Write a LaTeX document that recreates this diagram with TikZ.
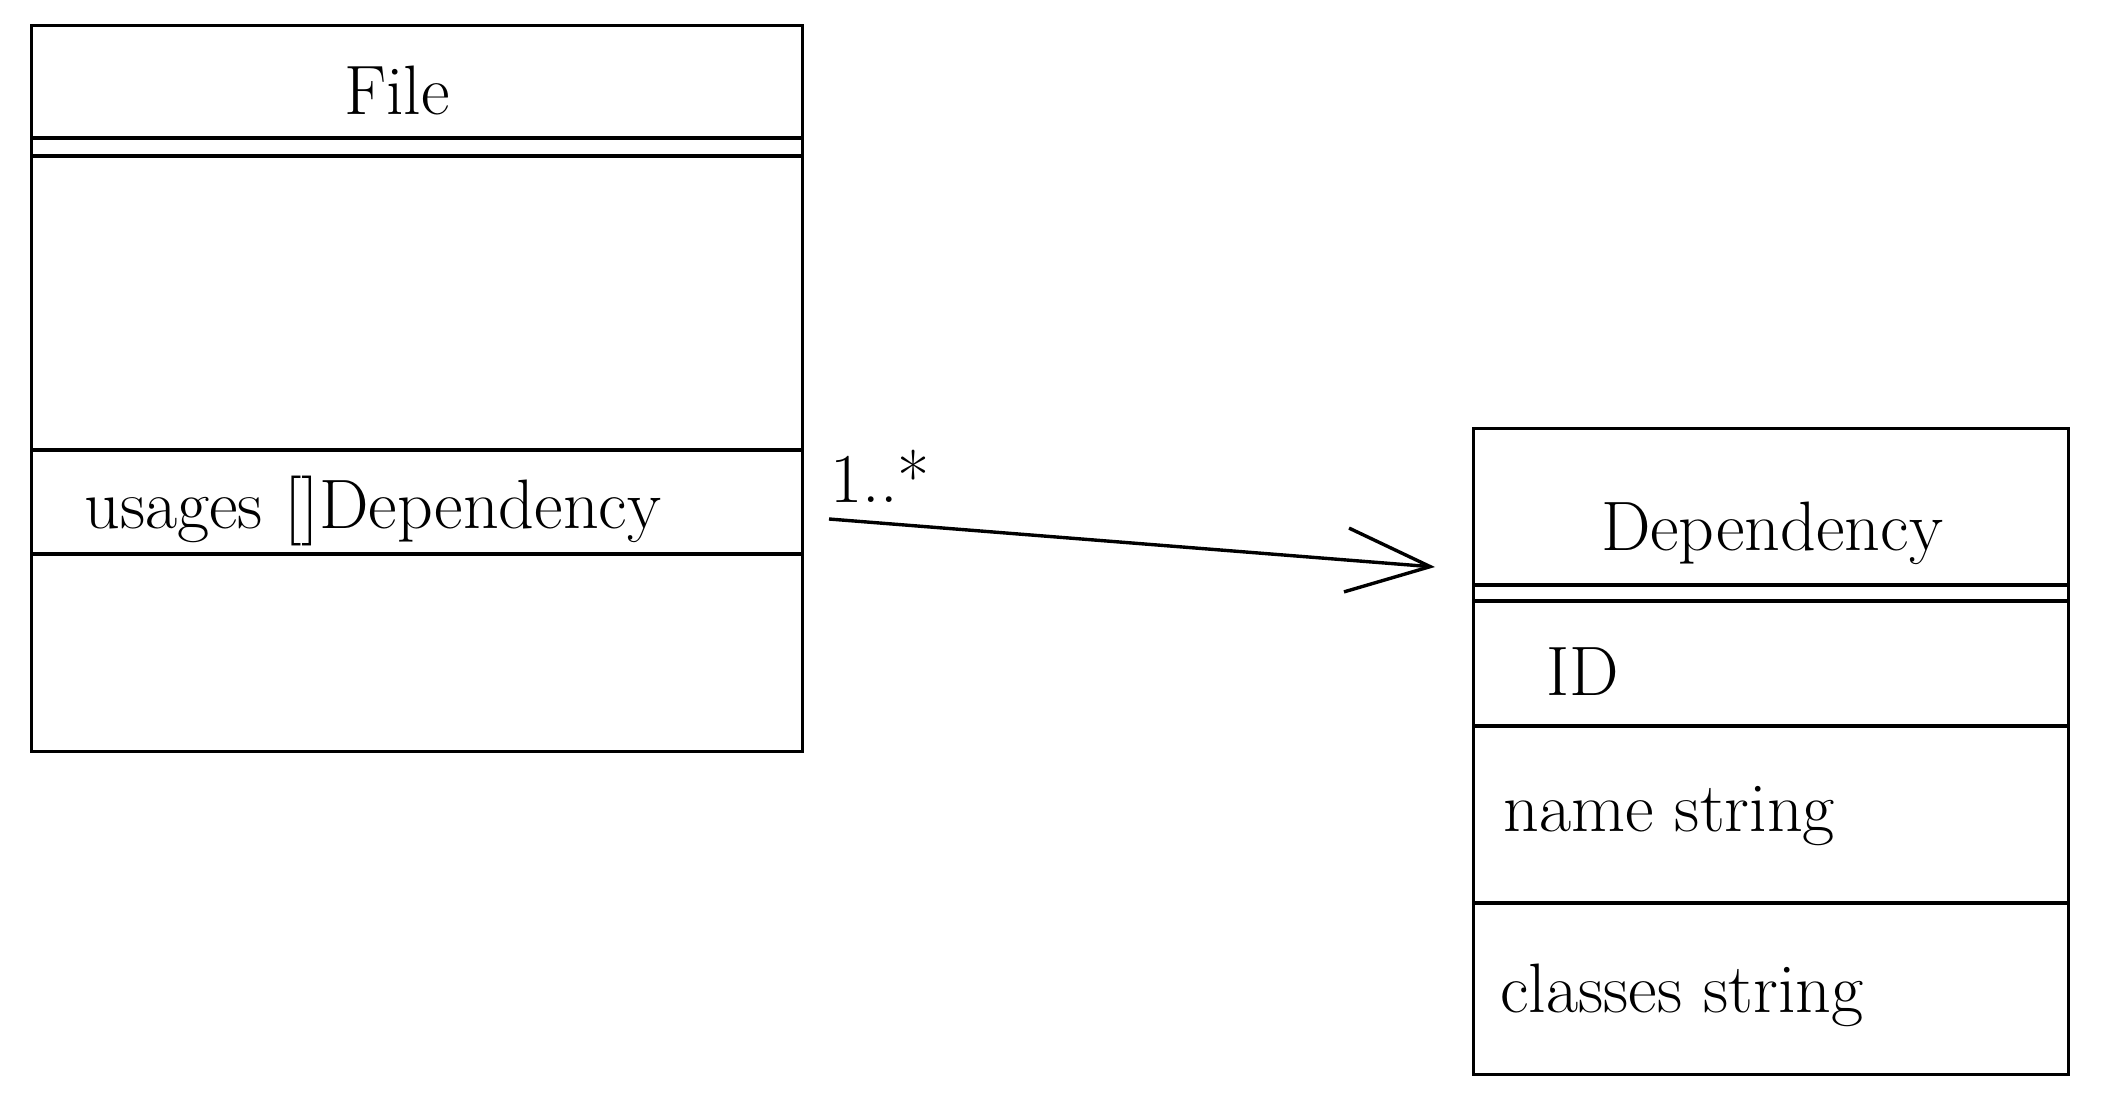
\documentclass[tikz,border=0pt]{standalone}
\usepackage{tikz}
\usetikzlibrary{arrows.meta}
\tikzset{>=latex}

\begin{document}
\begin{tikzpicture}[
    x=0.5pt, y=-0.5pt,
    every node/.style={font=\fontsize{35}{42}\selectfont, inner sep=0pt},
    classbox/.style={draw, rectangle, line width=1.7pt, anchor=north west},
    divider/.style={line width=1.7pt},
    assoc/.style={line width=1.7pt, -{Straight Barb[length=42pt, width=32pt, line width=1.7pt]}}
]
    \useasboundingbox (0,0) rectangle (2108,1102);

    % Nodes
    \node (File) [classbox, minimum width=385.5pt, minimum height=363pt] at (30,24) {};
    \node (Dependency) [classbox, minimum width=297.5pt, minimum height=323pt] at (1472,427) {};

    \node (FileTitle) at (397,90) {File};
    \node (Usages) [anchor=west] at (84,511) {usages []Dependency};

    \node (DepTitle) at (1772,533) {Dependency};
    \node (IdField) [anchor=west] at (1546,672) {ID};
    \node (NameField) [anchor=west] at (1503,816) {name string};
    \node (ClassesField) [anchor=west] at (1500,995) {classes string};

    % Dividers
    \draw[divider] (30,138) -- (801,138);
    \draw[divider] (30,156) -- (801,156);
    \draw[divider] (30,450) -- (801,450);
    \draw[divider] (30,554) -- (801,554);

    \draw[divider] (1472,585) -- (2067,585);
    \draw[divider] (1472,601) -- (2067,601);
    \draw[divider] (1472,726) -- (2067,726);
    \draw[divider] (1472,903) -- (2067,903);

    % Arrows
    \coordinate (AssocStart) at (829,519);
    \coordinate (AssocEnd) at (1435,567);
    \draw[assoc] (AssocStart) -- (AssocEnd);
    \node (Mult) at (880,476) {1..*};
\end{tikzpicture}
\end{document}
